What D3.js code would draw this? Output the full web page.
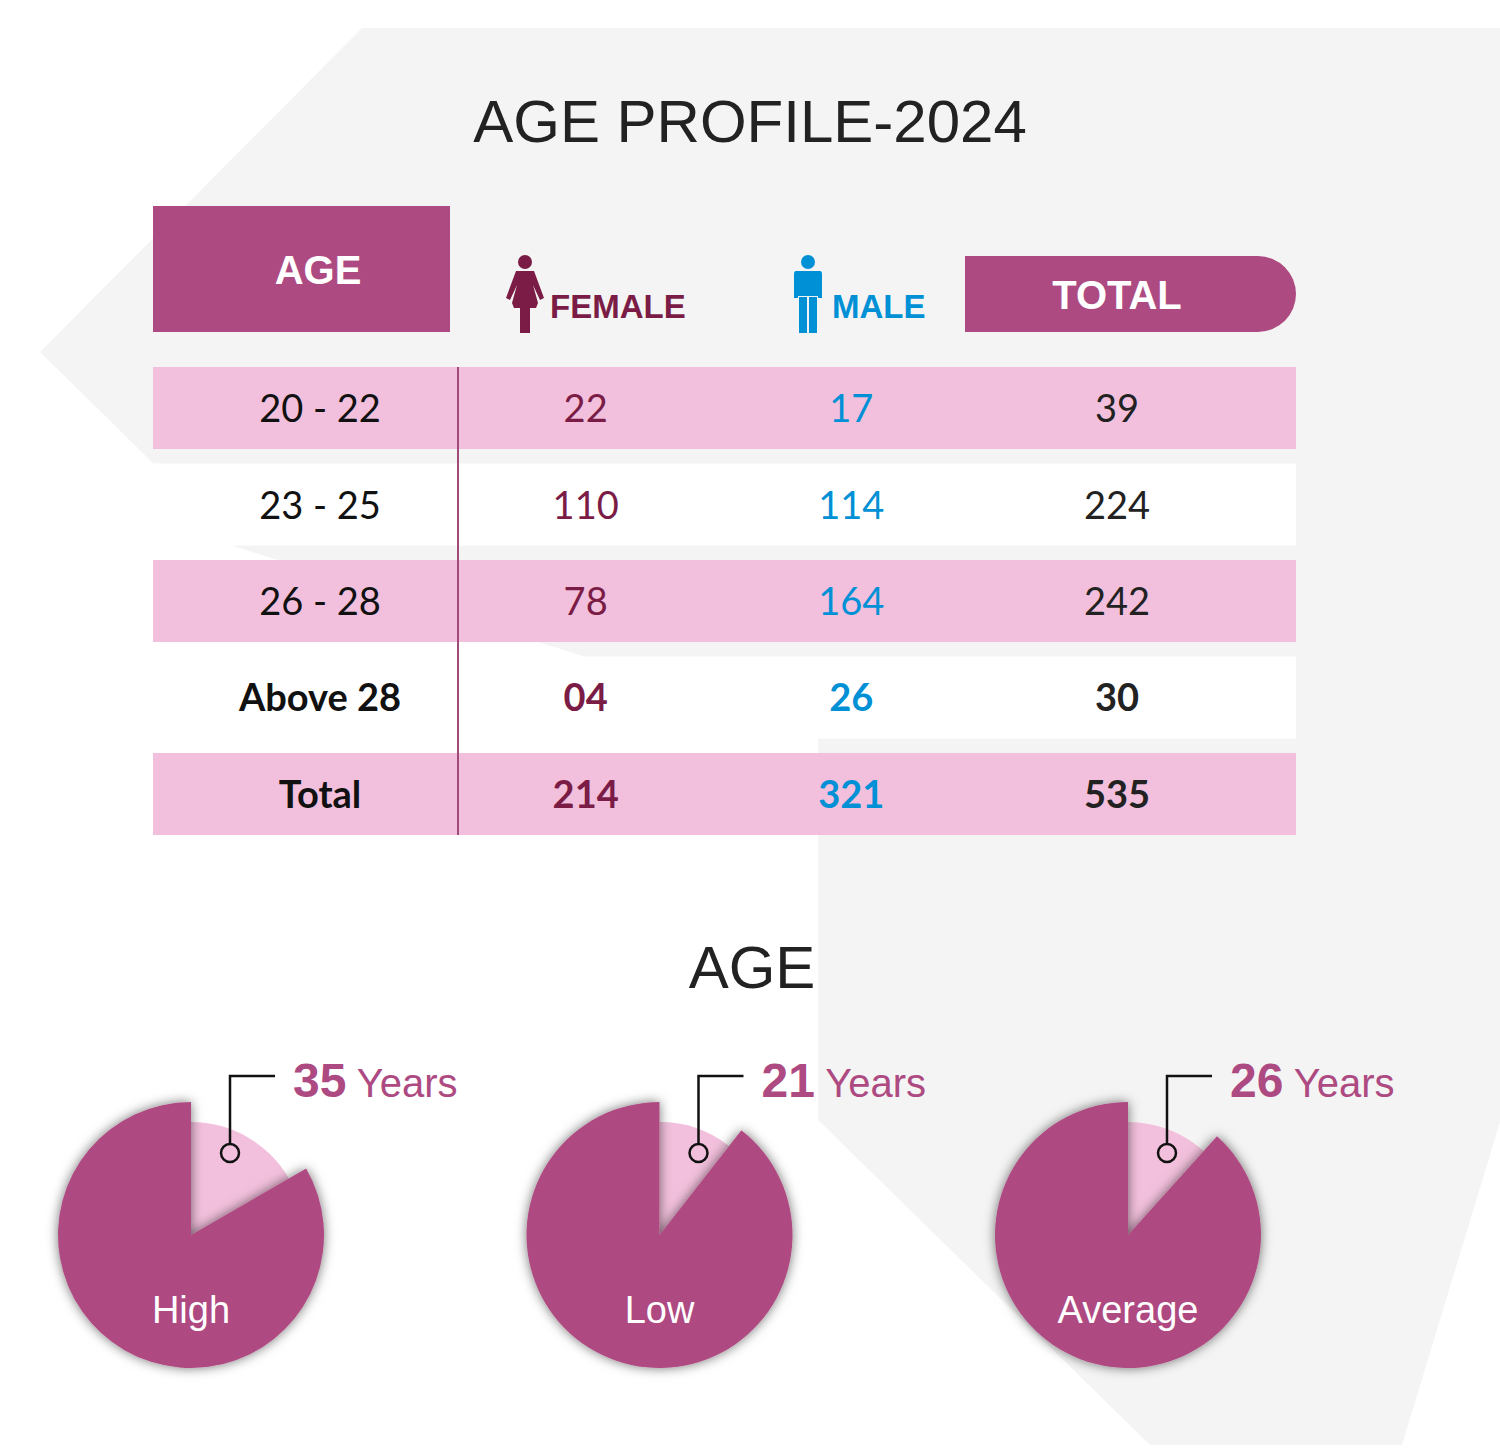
<!DOCTYPE html>
<html><head><meta charset="utf-8">
<script src="https://cdn.jsdelivr.net/npm/d3@7"></script>
<style>body{margin:0;background:#fff}</style>
</head><body><div class="chart"></div>
<script>
const ageGroups = ["20 - 22", "23 - 25", "26 - 28", "Above 28", "Total"]
const female = ["22", "110", "78", "04", "214"]
const male = ["17", "114", "164", "26", "321"]
const total = ["39", "224", "242", "30", "535"]
const stats = ["High", "Low", "Average"]
const statYears = [35, 21, 26]
const gapDeg = [60, 38, 42]   // open wedge of each pie, degrees

const W = 1500, H = 1451
const dark = "#ae4a82", pink = "#f2c0dc", fCol = "#7a1c45", mCol = "#0090d6"

const svg = d3.select(".chart").append("svg").attr("width", W).attr("height", H)
const defs = svg.append("defs")
const f = defs.append("filter").attr("id", "sh").attr("x", "-20%").attr("y", "-20%").attr("width", "140%").attr("height", "140%")
f.append("feDropShadow").attr("dx", 0).attr("dy", 0).attr("stdDeviation", 6).attr("flood-color", "#000").attr("flood-opacity", 0.55)

// background shapes
svg.append("path").attr("fill", "#f4f4f4")
  .attr("d", "M362,28 L1500,28 L1500,1122 L1402,1445 L1150,1445 L818,1120 L818,730 L230,545 L155,465 L40,352 Z")

// layout scales
const rows = d3.scaleBand().domain(ageGroups).range([367, 835]).paddingInner(0.15)
const cols = d3.scalePoint().domain(["age", "female", "male", "total"]).range([320, 1117])

svg.append("text").attr("x", 750).attr("y", 142).attr("text-anchor", "middle")
  .style("font", "60px 'Liberation Sans', Arial").attr("fill", "#222").text("AGE PROFILE-2024")

// header
svg.append("rect").attr("x", 153).attr("y", 206).attr("width", 297).attr("height", 126).attr("fill", dark)
svg.append("text").attr("x", 318).attr("y", 284).attr("text-anchor", "middle").attr("fill", "#fff")
  .style("font", "bold 40px 'Liberation Sans', Arial").text("AGE")
svg.append("path").attr("fill", dark)
  .attr("d", "M965,256 L1258,256 A38,38 0 0 1 1258,332 L965,332 Z")
svg.append("text").attr("x", 1117).attr("y", 309).attr("text-anchor", "middle").attr("fill", "#fff")
  .style("font", "bold 40px 'Liberation Sans', Arial").text("TOTAL")

// female icon
const fi = svg.append("g").attr("fill", fCol).attr("transform", "translate(525,0)")
fi.append("circle").attr("cx", 0).attr("cy", 262).attr("r", 7)
fi.append("path").attr("d", "M-9,271 L9,271 L19,298 L15,300 L8,285 L13,303 L11,308 L-11,308 L-13,303 L-8,285 L-15,300 L-19,298 Z")
fi.append("rect").attr("x", -5).attr("y", 308).attr("width", 10).attr("height", 25)
svg.append("text").attr("x", 550).attr("y", 318).attr("fill", fCol)
  .style("font", "bold 33px 'Liberation Sans', Arial").text("FEMALE")

// male icon
const mi = svg.append("g").attr("fill", mCol).attr("transform", "translate(808,0)")
mi.append("circle").attr("cx", 0).attr("cy", 262).attr("r", 7)
mi.append("path").attr("d", "M-12,271 L12,271 Q14,271 14,274 L14,298 L10,298 L10,281 L10,296 L-10,296 L-10,281 L-10,298 L-14,298 L-14,274 Q-14,271 -12,271 Z")
mi.append("rect").attr("x", -9).attr("y", 297).attr("width", 8).attr("height", 36)
mi.append("rect").attr("x", 1).attr("y", 297).attr("width", 8).attr("height", 36)
svg.append("text").attr("x", 832).attr("y", 318).attr("fill", mCol)
  .style("font", "bold 33px 'Liberation Sans', Arial").text("MALE")

// rows
const tableRows = ageGroups.map((a, i) => ({age: a, female: female[i], male: male[i], total: total[i], i}))
const rg = svg.selectAll(".row").data(tableRows).enter().append("g")
rg.append("rect").attr("x", 153).attr("width", 1143)
  .attr("y", d => rows(d.age)).attr("height", rows.bandwidth())
  .attr("fill", d => d.i % 2 === 0 ? pink : "#fff")
const colColor = {age: "#111", female: fCol, male: mCol, total: "#222"}
;["age", "female", "male", "total"].forEach(c => {
  rg.append("text").attr("x", cols(c)).attr("y", d => rows(d.age) + rows.bandwidth() / 2 + 14)
    .attr("text-anchor", "middle").attr("fill", colColor[c])
    .style("font-family", "Lato, 'Open Sans', sans-serif").style("font-size", "38px")
    .style("font-weight", d => d.i >= 3 ? "bold" : "normal")
    .text(d => d[c])
})
svg.append("line").attr("x1", 458).attr("x2", 458).attr("y1", rows(ageGroups[0]))
  .attr("y2", rows("Total") + rows.bandwidth()).attr("stroke", "#a04a7a").attr("stroke-width", 2)

// AGE subtitle
svg.append("text").attr("x", 752).attr("y", 988).attr("text-anchor", "middle")
  .style("font", "60px 'Liberation Sans', Arial").attr("fill", "#222").text("AGE")

// pies
const px = d3.scalePoint().domain(stats).range([191, 1128])
const cy = 1235, R = 133, r2 = 113
const pie = d3.pie().sort(null).value(d => d)
stats.forEach((s, i) => {
  const g = svg.append("g").attr("transform", `translate(${px(s)},${cy})`)
  const arcs = pie([gapDeg[i], 360 - gapDeg[i]])
  g.append("path").attr("d", d3.arc().innerRadius(0).outerRadius(r2)(arcs[0])).attr("fill", pink)
  g.append("path").attr("d", d3.arc().innerRadius(0).outerRadius(R)(arcs[1])).attr("fill", dark).attr("filter", "url(#sh)")
  g.append("text").attr("y", 88).attr("text-anchor", "middle").attr("fill", "#fff")
    .style("font", "38px 'Liberation Sans', Arial").text(s)
  g.append("path").attr("d", "M39,-91 L39,-159 L84,-159").attr("fill", "none").attr("stroke", "#111").attr("stroke-width", 2.5)
  g.append("circle").attr("cx", 39).attr("cy", -82).attr("r", 9).attr("fill", "none").attr("stroke", "#111").attr("stroke-width", 2.5)
  const t = g.append("text").attr("x", 102).attr("y", -138).attr("fill", dark)
  t.append("tspan").style("font", "bold 48px 'Liberation Sans', Arial").text(statYears[i])
  t.append("tspan").style("font", "40px 'Liberation Sans', Arial").text(" Years")
})
</script></body></html>
